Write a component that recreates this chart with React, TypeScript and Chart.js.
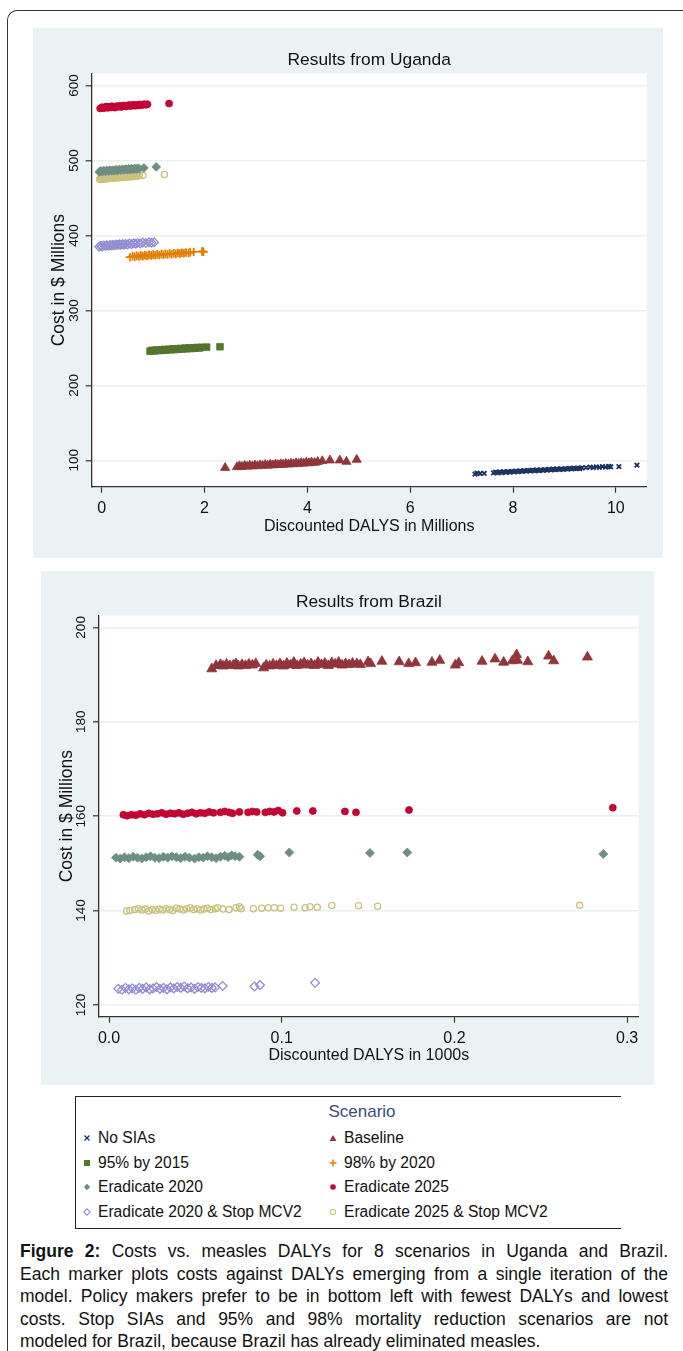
import React, { useEffect, useRef } from 'react';
import { Chart, registerables } from 'chart.js';
Chart.register(...registerables);

type Pt = [number, number];

const FONT = '"Liberation Sans", Arial, sans-serif';

// ---- Scenario metadata ----
const SCENARIOS = [
  'No SIAs',
  'Baseline',
  '95% by 2015',
  '98% by 2020',
  'Eradicate 2020',
  'Eradicate 2025',
  'Eradicate 2020 & Stop MCV2',
  'Eradicate 2025 & Stop MCV2',
];
const COLORS = ['#1c3261', '#90353b', '#55752f', '#e37e00', '#6e8e84', '#c10534', '#938dd2', '#cac27e'];
const POINT_STYLES = ['crossRot', 'triangle', 'rect', 'cross', 'rectRot', 'circle', 'rectRot', 'circle'];
const HOLLOW = [false, false, false, false, false, false, true, true];

// ---- Uganda axes ----
const UG_X_TICKS = [0, 2, 4, 6, 8, 10];
const UG_X_LABELS = ['0', '2', '4', '6', '8', '10'];
const UG_Y_TICKS = [100, 200, 300, 400, 500, 600];
const UG_Y_LABELS = ['100', '200', '300', '400', '500', '600'];

// ---- Uganda data: [DALYs (millions), cost ($ millions)] ----
const UG_NO_SIAS: Pt[] = [
  [7.26, 81.5], [7.3, 82.8], [7.36, 82.4], [7.44, 82.6], [7.62, 83.2], [7.66, 84.2], [7.7, 83.4], [7.74, 84.5],
  [7.78, 83.7], [7.82, 84.8], [7.86, 84.0], [7.9, 85.0], [7.94, 84.3], [7.98, 85.3], [8.02, 84.6], [8.06, 85.6],
  [8.1, 84.9], [8.14, 85.9], [8.18, 85.2], [8.22, 86.2], [8.26, 85.5], [8.3, 86.5], [8.34, 85.8], [8.38, 86.8],
  [8.42, 86.1], [8.46, 87.1], [8.5, 86.4], [8.54, 87.3], [8.58, 86.7], [8.62, 87.6], [8.66, 86.9], [8.7, 87.9],
  [8.74, 87.2], [8.78, 88.1], [8.82, 87.5], [8.86, 88.4], [8.9, 87.8], [8.94, 88.7], [8.98, 88.0], [9.02, 88.9],
  [9.06, 88.3], [9.1, 89.2], [9.14, 88.6], [9.18, 89.4], [9.22, 88.9], [9.26, 89.7], [9.3, 89.1], [9.34, 89.9],
  [9.42, 90.3], [9.5, 90.9], [9.56, 90.2], [9.62, 91.3], [9.68, 90.7], [9.74, 91.6], [9.8, 91.0], [9.86, 92.0],
  [9.9, 91.4], [10.06, 91.5], [10.41, 93.6],
];
const UG_BASELINE: Pt[] = [
  [2.4, 90.0], [2.63, 91.0], [2.68, 92.2], [2.73, 91.4], [2.78, 92.8], [2.83, 91.8], [2.88, 93.0], [2.93, 92.1],
  [2.98, 93.3], [3.03, 92.4], [3.08, 93.6], [3.13, 92.8], [3.18, 94.0], [3.23, 93.1], [3.28, 94.3], [3.33, 93.5],
  [3.38, 94.7], [3.43, 93.9], [3.48, 95.0], [3.53, 94.3], [3.58, 95.4], [3.63, 94.6], [3.68, 95.8], [3.73, 95.0],
  [3.78, 96.2], [3.83, 95.4], [3.88, 96.6], [3.93, 95.8], [3.98, 97.0], [4.03, 96.3], [4.08, 97.4], [4.14, 96.8],
  [4.2, 97.9], [4.29, 99.1], [4.44, 100.0], [4.63, 100.0], [4.76, 98.2], [4.96, 100.9],
];
const UG_95_BY_2015: Pt[] = [
  [0.94, 245.6], [0.98, 246.8], [1.02, 246.0], [1.06, 247.2], [1.1, 246.4], [1.14, 247.5], [1.18, 246.8],
  [1.22, 247.9], [1.26, 247.1], [1.3, 248.2], [1.34, 247.5], [1.38, 248.6], [1.42, 247.8], [1.46, 248.9],
  [1.5, 248.2], [1.54, 249.2], [1.58, 248.5], [1.62, 249.6], [1.66, 248.9], [1.7, 249.9], [1.74, 249.2],
  [1.78, 250.2], [1.82, 249.6], [1.86, 250.5], [1.9, 249.9], [1.94, 250.8], [2.04, 251.0], [2.3, 251.5],
];
const UG_98_BY_2020: Pt[] = [
  [0.55, 371.0], [0.6, 372.4], [0.64, 371.5], [0.68, 373.0], [0.72, 371.9], [0.76, 373.4], [0.8, 372.3],
  [0.84, 373.7], [0.88, 372.8], [0.92, 374.1], [0.96, 373.2], [1.0, 374.5], [1.04, 373.6], [1.08, 374.8],
  [1.12, 374.0], [1.16, 375.2], [1.2, 374.3], [1.24, 375.5], [1.28, 374.7], [1.32, 375.9], [1.36, 375.0],
  [1.4, 376.2], [1.44, 375.4], [1.48, 376.6], [1.52, 375.8], [1.56, 377.0], [1.6, 376.2], [1.64, 377.3],
  [1.69, 376.6], [1.72, 377.8], [1.79, 378.0], [1.95, 378.8], [1.98, 378.2],
];
const UG_ERAD_2020: Pt[] = [
  [-0.05, 484.8], [-0.02, 486.0], [0.01, 485.3], [0.04, 486.6], [0.07, 485.6], [0.1, 486.9], [0.13, 485.9],
  [0.16, 487.2], [0.19, 486.3], [0.22, 487.0], [0.25, 486.5], [0.28, 487.7], [0.31, 486.8], [0.34, 488.0],
  [0.37, 487.1], [0.4, 488.3], [0.43, 487.5], [0.46, 488.6], [0.49, 487.8], [0.52, 488.9], [0.55, 488.0],
  [0.58, 489.1], [0.61, 488.4], [0.64, 489.4], [0.67, 488.7], [0.7, 489.6], [0.73, 489.0], [0.82, 490.1],
  [1.06, 491.5],
];
const UG_ERAD_2025: Pt[] = [
  [-0.03, 569.5], [0.01, 571.2], [0.04, 569.9], [0.07, 570.8], [0.09, 572.0], [0.12, 570.3], [0.15, 571.6],
  [0.18, 570.9], [0.2, 572.4], [0.23, 571.2], [0.26, 570.6], [0.29, 572.5], [0.32, 571.8], [0.35, 573.0],
  [0.38, 571.5], [0.41, 572.7], [0.44, 573.4], [0.47, 572.1], [0.5, 573.1], [0.53, 574.0], [0.56, 572.6],
  [0.59, 573.7], [0.62, 574.3], [0.65, 573.0], [0.68, 574.2], [0.71, 573.5], [0.74, 574.8], [0.77, 573.9],
  [0.8, 574.6], [0.83, 575.2], [0.86, 574.4], [0.89, 575.0], [1.31, 576.0],
];
const UG_ERAD_2020_STOP: Pt[] = [
  [-0.05, 385.0], [-0.02, 386.3], [0.01, 385.4], [0.04, 386.8], [0.07, 385.8], [0.1, 387.0], [0.13, 386.1],
  [0.16, 387.4], [0.19, 386.5], [0.22, 387.6], [0.25, 386.8], [0.28, 387.9], [0.31, 387.1], [0.34, 388.2],
  [0.37, 387.3], [0.4, 388.5], [0.43, 387.6], [0.46, 388.8], [0.5, 388.0], [0.54, 389.2], [0.58, 388.4],
  [0.62, 389.6], [0.66, 388.9], [0.7, 390.1], [0.75, 389.3], [0.8, 390.6], [0.86, 389.8], [0.92, 391.0],
  [0.97, 390.2], [1.02, 391.0],
];
const UG_ERAD_2025_STOP: Pt[] = [
  [-0.04, 474.6], [-0.02, 476.2], [0.0, 475.0], [0.02, 476.8], [0.04, 475.4], [0.06, 474.9], [0.08, 476.5],
  [0.1, 475.6], [0.12, 477.0], [0.14, 475.9], [0.16, 476.6], [0.18, 477.4], [0.2, 476.1], [0.22, 477.0],
  [0.24, 476.4], [0.26, 477.7], [0.28, 476.7], [0.3, 477.3], [0.32, 478.0], [0.34, 476.9], [0.36, 477.8],
  [0.38, 477.2], [0.4, 478.3], [0.42, 477.5], [0.44, 478.1], [0.46, 478.7], [0.48, 477.8], [0.5, 478.5],
  [0.52, 479.1], [0.54, 478.2], [0.56, 478.9], [0.58, 478.4], [0.6, 479.3], [0.62, 478.7], [0.64, 479.6],
  [0.66, 479.0], [0.68, 479.8], [0.7, 479.3], [0.73, 479.9], [0.8, 480.2], [1.22, 481.3],
];

// ---- Brazil axes ----
const BR_X_TICKS = [0, 0.1, 0.2, 0.3];
const BR_X_LABELS = ['0.0', '0.1', '0.2', '0.3'];
const BR_Y_TICKS = [120, 140, 160, 180, 200];
const BR_Y_LABELS = ['120', '140', '160', '180', '200'];

// ---- Brazil data: [DALYs (1000s), cost ($ millions)] ----
const BR_BASELINE: Pt[] = [
  [0.0595, 191.2], [0.062, 191.9], [0.0645, 192.1], [0.066, 191.8], [0.068, 192.2], [0.07, 191.9], [0.072, 192.0],
  [0.0735, 192.3], [0.075, 191.8], [0.077, 192.1], [0.079, 191.9], [0.081, 192.2], [0.083, 192.0], [0.085, 192.3],
  [0.0895, 191.4], [0.091, 192.0], [0.093, 191.8], [0.095, 192.2], [0.097, 191.9], [0.099, 192.3], [0.101, 191.8],
  [0.103, 192.4], [0.105, 192.0], [0.107, 192.6], [0.109, 191.9], [0.111, 192.2], [0.113, 192.5], [0.115, 192.0],
  [0.117, 192.3], [0.119, 191.9], [0.121, 192.6], [0.123, 192.1], [0.125, 192.4], [0.127, 191.9], [0.129, 192.5],
  [0.131, 192.2], [0.133, 192.6], [0.135, 192.0], [0.137, 192.3], [0.139, 192.1], [0.141, 192.4],
  [0.1435, 192.3], [0.1455, 192.1], [0.15, 192.7], [0.1515, 192.3], [0.158, 192.8], [0.168, 192.7],
  [0.1735, 192.3], [0.1775, 192.5], [0.187, 192.6], [0.1915, 193.0], [0.2005, 192.0], [0.2025, 192.5],
  [0.216, 192.8], [0.2235, 193.3], [0.2285, 192.6], [0.2335, 192.9], [0.236, 194.2], [0.2365, 193.0],
  [0.2425, 192.7], [0.2545, 193.9], [0.2575, 192.9], [0.277, 193.7],
];
const BR_ERAD_2020: Pt[] = [
  [0.004, 151.2], [0.0065, 151.0], [0.009, 151.3], [0.0115, 151.1], [0.014, 151.4], [0.0165, 151.2], [0.019, 151.0],
  [0.0215, 151.3], [0.024, 151.5], [0.0265, 151.2], [0.029, 151.1], [0.0315, 151.4], [0.034, 151.2], [0.0365, 151.5],
  [0.039, 151.3], [0.0415, 151.1], [0.044, 151.4], [0.0465, 151.2], [0.0495, 151.0], [0.052, 151.3], [0.0545, 151.2],
  [0.057, 151.5], [0.0595, 151.3], [0.062, 151.1], [0.0645, 151.4], [0.067, 151.6], [0.069, 151.3], [0.071, 151.7],
  [0.073, 151.5], [0.0755, 151.4], [0.0861, 151.8], [0.0875, 151.5], [0.1044, 152.3], [0.1511, 152.2],
  [0.1727, 152.3], [0.2862, 152.0],
];
const BR_ERAD_2025: Pt[] = [
  [0.0083, 160.3], [0.0105, 160.1], [0.013, 160.3], [0.0155, 160.2], [0.018, 160.5], [0.0205, 160.3], [0.023, 160.6],
  [0.0255, 160.4], [0.028, 160.5], [0.0305, 160.7], [0.033, 160.4], [0.0355, 160.6], [0.038, 160.5], [0.0405, 160.7],
  [0.043, 160.4], [0.0455, 160.6], [0.048, 160.8], [0.0505, 160.5], [0.053, 160.7], [0.0555, 160.6], [0.058, 160.9],
  [0.0605, 160.7], [0.0645, 160.8], [0.067, 161.0], [0.0695, 160.8], [0.0715, 160.6], [0.0755, 160.9], [0.0805, 160.8],
  [0.083, 161.0], [0.0855, 160.9], [0.0905, 160.8], [0.093, 161.0], [0.0955, 160.9], [0.098, 161.2], [0.1005, 160.7],
  [0.1087, 161.1], [0.118, 161.1], [0.1366, 161.0], [0.143, 160.8], [0.1737, 161.3], [0.2917, 161.8],
];
const BR_ERAD_2020_STOP: Pt[] = [
  [0.0054, 123.4], [0.0075, 123.2], [0.0095, 123.6], [0.0115, 123.3], [0.0135, 123.5], [0.0155, 123.2],
  [0.0175, 123.6], [0.0195, 123.4], [0.0215, 123.7], [0.0235, 123.3], [0.0255, 123.5], [0.0275, 123.8],
  [0.0295, 123.4], [0.0315, 123.6], [0.0335, 123.3], [0.0355, 123.7], [0.0375, 123.5], [0.0395, 123.8],
  [0.0415, 123.6], [0.0435, 123.9], [0.0455, 123.5], [0.0475, 123.7], [0.0495, 123.4], [0.0515, 123.8],
  [0.0535, 123.6], [0.0555, 123.5], [0.0575, 123.8], [0.0595, 123.6], [0.0614, 123.7], [0.0658, 124.0],
  [0.0842, 123.9], [0.0874, 124.2], [0.1193, 124.7],
];
const BR_ERAD_2025_STOP: Pt[] = [
  [0.0102, 139.9], [0.0121, 140.0], [0.015, 140.2], [0.017, 140.4], [0.019, 140.1], [0.021, 140.3], [0.023, 139.9],
  [0.025, 140.2], [0.027, 140.0], [0.029, 140.3], [0.031, 140.1], [0.033, 140.4], [0.035, 140.2], [0.037, 140.0],
  [0.039, 140.5], [0.041, 140.3], [0.043, 140.1], [0.045, 140.4], [0.047, 140.6], [0.049, 140.2], [0.051, 140.4],
  [0.053, 140.1], [0.055, 140.3], [0.057, 140.5], [0.059, 140.2], [0.0615, 140.4], [0.063, 140.6], [0.066, 140.3],
  [0.0695, 140.2], [0.0735, 140.6], [0.0755, 140.8], [0.0765, 140.4], [0.0836, 140.4], [0.0884, 140.5],
  [0.0922, 140.6], [0.0957, 140.6], [0.0994, 140.5], [0.1071, 140.7], [0.1135, 140.6], [0.1164, 140.8],
  [0.1206, 140.7], [0.129, 141.05], [0.1445, 141.0], [0.1555, 140.9], [0.2725, 141.1],
];

const CAPTION_LINES = [
  'Costs vs. measles DALYs  for 8 scenarios in Uganda and Brazil.',
  'Each marker plots costs against DALYs emerging from a single iteration of the',
  'model.  Policy makers prefer to be in bottom left with fewest DALYs and lowest',
  'costs.  Stop SIAs and 95% and 98% mortality reduction scenarios are not',
  'modeled for Brazil, because Brazil has already eliminated measles.',
];

interface PanelCfg {
  left: number; top: number; width: number; height: number;
  title: string; xTitle: string; yTitle: string;
  xMin: number; xMax: number; yMin: number; yMax: number;
  xTicks: number[]; xLabels: string[]; yTicks: number[]; yLabels: string[];
  series: (Pt[] | null)[];
  radii: number[];
  yAxisWidth: number; xAxisHeight: number; padRight: number; padBottom: number;
  titlePadTop: number; titlePadBottom: number;
  yTickPad: number; yTitlePad: number; xTickPad: number; xTitlePad: number;
}

const UGANDA: PanelCfg = {
  left: 33, top: 28, width: 630, height: 530,
  title: 'Results from Uganda', xTitle: 'Discounted DALYS in Millions', yTitle: 'Cost in $ Millions',
  xMin: -0.195, xMax: 10.6, yMin: 64.8, yMax: 616,
  xTicks: UG_X_TICKS, xLabels: UG_X_LABELS, yTicks: UG_Y_TICKS, yLabels: UG_Y_LABELS,
  series: [UG_NO_SIAS, UG_BASELINE, UG_95_BY_2015, UG_98_BY_2020, UG_ERAD_2020, UG_ERAD_2025, UG_ERAD_2020_STOP, UG_ERAD_2025_STOP],
  radii: [3.2, 5.3, 4.7, 4.3, 4.4, 3.5, 4.3, 3.1],
  yAxisWidth: 58.7, xAxisHeight: 60, padRight: 16.3, padBottom: 11.3,
  titlePadTop: 21.7, titlePadBottom: 3.0,
  yTickPad: 0, yTitlePad: 15.6, xTickPad: 6.7, xTitlePad: 10.4,
};

const BRAZIL: PanelCfg = {
  left: 41, top: 571, width: 613, height: 514,
  title: 'Results from Brazil', xTitle: 'Discounted DALYS in 1000s', yTitle: 'Cost in $ Millions',
  xMin: -0.0058, xMax: 0.3067, yMin: 117.5, yMax: 202.5,
  xTicks: BR_X_TICKS, xLabels: BR_X_LABELS, yTicks: BR_Y_TICKS, yLabels: BR_Y_LABELS,
  series: [null, BR_BASELINE, null, null, BR_ERAD_2020, BR_ERAD_2025, BR_ERAD_2020_STOP, BR_ERAD_2025_STOP],
  radii: [3, 5.8, 4.6, 4, 4.5, 3.5, 4.4, 3.1],
  yAxisWidth: 58, xAxisHeight: 60, padRight: 15.3, padBottom: 8.3,
  titlePadTop: 21.0, titlePadBottom: 2.7,
  yTickPad: 0, yTitlePad: 15.6, xTickPad: 6.7, xTitlePad: 11.9,
};

const plotBg = {
  id: 'plotBg',
  beforeDraw(chart: any) {
    const { ctx, chartArea } = chart;
    ctx.save();
    ctx.fillStyle = '#ffffff';
    ctx.fillRect(chartArea.left, chartArea.top, chartArea.right - chartArea.left, chartArea.bottom - chartArea.top);
    ctx.restore();
  },
};

function labelFor(ticks: number[], labels: string[], v: number) {
  let best = 0;
  for (let i = 0; i < ticks.length; i++) if (Math.abs(ticks[i] - v) < Math.abs(ticks[best] - v)) best = i;
  return labels[best];
}

function Panel({ cfg }: { cfg: PanelCfg }) {
  const ref = useRef<HTMLCanvasElement>(null);
  useEffect(() => {
    const datasets: any[] = [];
    cfg.series.forEach((pts, i) => {
      if (!pts) return;
      const style = POINT_STYLES[i];
      const lineStyle = style === 'cross' || style === 'crossRot';
      datasets.push({
        label: SCENARIOS[i],
        data: pts.map(([x, y]) => ({ x, y })),
        pointStyle: style,
        pointRadius: cfg.radii[i],
        backgroundColor: HOLLOW[i] ? 'rgba(0,0,0,0)' : COLORS[i],
        borderColor: COLORS[i],
        borderWidth: lineStyle ? 1.8 : HOLLOW[i] ? 1.3 : 0.8,
      });
    });
    const chart = new Chart(ref.current as HTMLCanvasElement, {
      type: 'scatter',
      data: { datasets },
      options: {
        animation: false,
        responsive: false,
        devicePixelRatio: 1,
        events: [],
        layout: { padding: { left: 0, right: cfg.padRight, top: 0, bottom: cfg.padBottom } },
        plugins: {
          legend: { display: false },
          tooltip: { enabled: false },
          title: {
            display: true,
            text: cfg.title,
            fullSize: false,
            color: '#111',
            font: { family: FONT, size: 17.4, weight: 'normal' },
            padding: { top: cfg.titlePadTop, bottom: cfg.titlePadBottom },
          },
        },
        scales: {
          x: {
            type: 'linear',
            min: cfg.xMin,
            max: cfg.xMax,
            afterBuildTicks: (s: any) => { s.ticks = cfg.xTicks.map((v) => ({ value: v })); },
            afterFit: (s: any) => { s.height = cfg.xAxisHeight; },
            ticks: {
              autoSkip: false,
              maxRotation: 0,
              minRotation: 0,
              padding: cfg.xTickPad,
              color: '#111',
              font: { family: FONT, size: 16 },
              callback: (v: any) => labelFor(cfg.xTicks, cfg.xLabels, Number(v)),
            },
            grid: { drawOnChartArea: false, drawTicks: true, tickLength: 6, tickColor: '#333', tickWidth: 1.2 },
            border: { display: true, color: '#333', width: 1.3 },
            title: {
              display: true,
              text: cfg.xTitle,
              color: '#111',
              font: { family: FONT, size: 16 },
              padding: { top: 0, bottom: cfg.xTitlePad },
            },
          },
          y: {
            type: 'linear',
            min: cfg.yMin,
            max: cfg.yMax,
            afterBuildTicks: (s: any) => { s.ticks = cfg.yTicks.map((v) => ({ value: v })); },
            afterFit: (s: any) => { s.width = cfg.yAxisWidth; },
            ticks: {
              autoSkip: false,
              minRotation: 90,
              maxRotation: 90,
              crossAlign: 'center',
              padding: cfg.yTickPad,
              color: '#111',
              font: { family: FONT, size: 13.5 },
              callback: (v: any) => labelFor(cfg.yTicks, cfg.yLabels, Number(v)),
            },
            grid: { color: '#e8f0f2', lineWidth: 1.6, drawTicks: true, tickLength: 6, tickColor: '#333', tickWidth: 1.2 },
            border: { display: true, color: '#333', width: 1.3 },
            title: {
              display: true,
              text: cfg.yTitle,
              color: '#111',
              font: { family: FONT, size: 17.5 },
              padding: { top: cfg.yTitlePad, bottom: 0 },
            },
          },
        },
      } as any,
      plugins: [plotBg],
    });
    return () => chart.destroy();
  }, [cfg]);
  return (
    <>
      <div style={{ position: 'absolute', left: cfg.left, top: cfg.top, width: cfg.width, height: cfg.height, background: '#eaf2f3' }} />
      <canvas
        ref={ref}
        width={cfg.width}
        height={cfg.height}
        style={{ position: 'absolute', left: cfg.left, top: cfg.top, width: cfg.width, height: cfg.height }}
      />
    </>
  );
}

function Marker({ i }: { i: number }) {
  const c = COLORS[i];
  const s = POINT_STYLES[i];
  let el: any = null;
  if (s === 'crossRot') el = <g stroke={c} strokeWidth={1.3}><line x1={1.5} y1={1.5} x2={6.5} y2={6.5} /><line x1={6.5} y1={1.5} x2={1.5} y2={6.5} /></g>;
  else if (s === 'triangle') el = <polygon points="4,1 7.5,7 0.5,7" fill={c} />;
  else if (s === 'rect') el = <rect x={1} y={1} width={6} height={6} fill={c} />;
  else if (s === 'cross') el = <g stroke={c} strokeWidth={1.5}><line x1={4} y1={0.5} x2={4} y2={7.5} /><line x1={0.5} y1={4} x2={7.5} y2={4} /></g>;
  else if (s === 'rectRot') el = HOLLOW[i]
    ? <polygon points="4,0.8 7.2,4 4,7.2 0.8,4" fill="none" stroke={c} strokeWidth={1.1} />
    : <polygon points="4,0.8 7.2,4 4,7.2 0.8,4" fill={c} />;
  else el = HOLLOW[i]
    ? <circle cx={4} cy={4} r={2.6} fill="none" stroke={c} strokeWidth={1.1} />
    : <circle cx={4} cy={4} r={2.8} fill={c} />;
  return <svg width={8} height={8} style={{ display: 'block' }}>{el}</svg>;
}

const LEGEND_ROW_Y = [1138, 1163, 1187, 1212];
const LEGEND_COL_X = [83, 329];

function Legend() {
  return (
    <>
      <div style={{ position: 'absolute', left: 75, top: 1096, width: 545, height: 131, borderLeft: '1.3px solid #222', borderTop: '1.3px solid #222', borderBottom: '1.3px solid #222' }} />
      <div style={{ position: 'absolute', left: 262, top: 1101, width: 200, textAlign: 'center', fontSize: 17, lineHeight: '22px', color: '#3e4a7a', fontFamily: FONT }}>Scenario</div>
      {SCENARIOS.map((name, i) => {
        const col = i % 2;
        const row = Math.floor(i / 2);
        const x = LEGEND_COL_X[col];
        const y = LEGEND_ROW_Y[row];
        return (
          <div key={name} style={{ position: 'absolute', left: x, top: y - 11, height: 22, display: 'flex', alignItems: 'center', whiteSpace: 'nowrap' }}>
            <Marker i={i} />
            <span style={{ marginLeft: 7, fontSize: 15.6, color: '#111', fontFamily: FONT }}>{name}</span>
          </div>
        );
      })}
    </>
  );
}

function Caption() {
  return (
    <div style={{ position: 'absolute', left: 20, top: 1240, width: 648, fontFamily: FONT, fontSize: 17.5, lineHeight: '22.6px', color: '#111' }}>
      {CAPTION_LINES.map((line, i) => (
        <div key={i} style={{ textAlign: 'justify', textAlignLast: i === CAPTION_LINES.length - 1 ? 'left' : 'justify', whiteSpace: 'nowrap' as any }}>
          {i === 0 ? <><b>Figure 2:</b> </> : null}
          {line}
        </div>
      ))}
    </div>
  );
}

export default function App() {
  return (
    <div style={{ position: 'absolute', left: 0, top: 0, width: 683, height: 1351, overflow: 'hidden', background: '#fff', fontFamily: FONT }}>
      <div style={{ position: 'absolute', left: 7, top: 10, width: 760, height: 1400, borderLeft: '1.3px solid #333', borderTop: '1.3px solid #333', borderTopLeftRadius: 10 }} />
      <Panel cfg={UGANDA} />
      <Panel cfg={BRAZIL} />
      <Legend />
      <Caption />
    </div>
  );
}
